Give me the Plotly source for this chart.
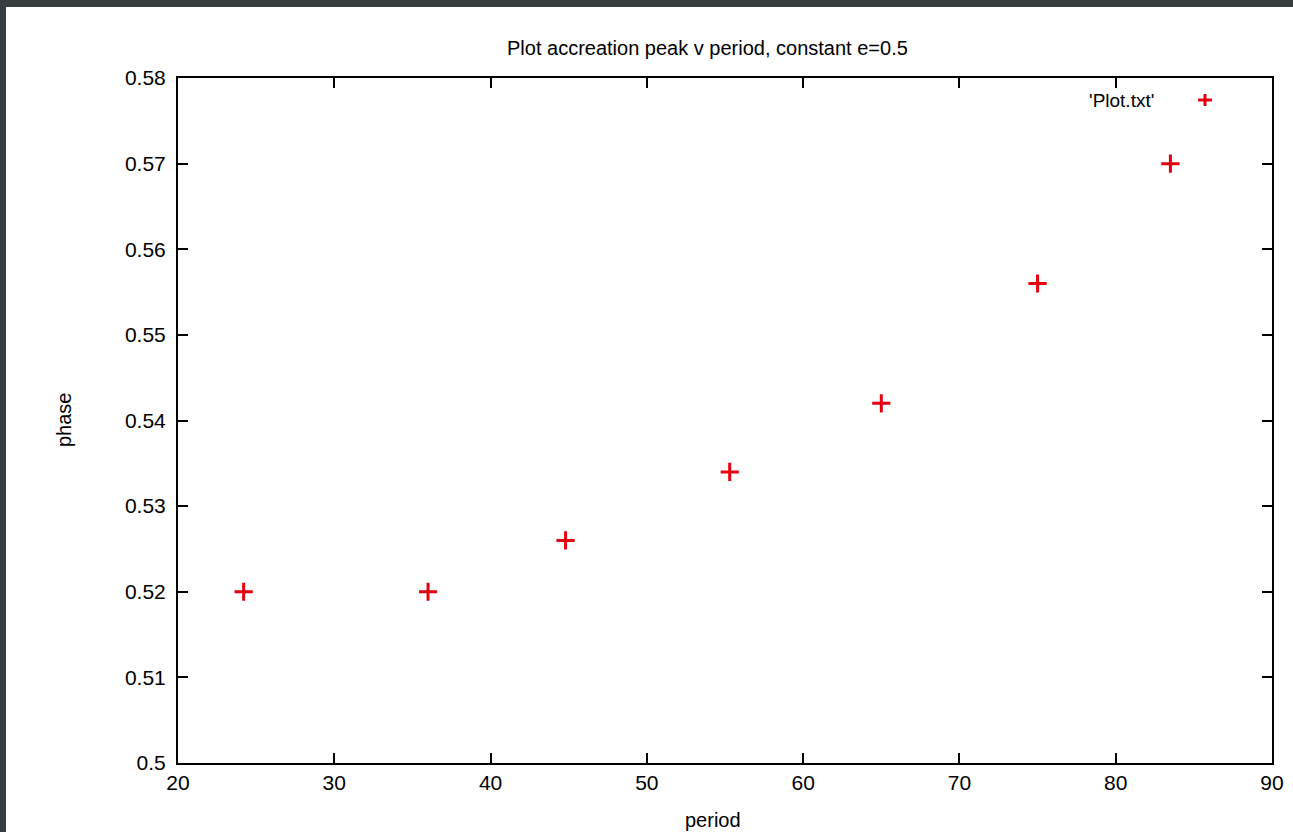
import plotly.graph_objects as go

# Accretion peak phase versus orbital period (constant e = 0.5)
period = [24.2, 36.0, 44.8, 55.3, 65.0, 75.0, 83.5]
phase = [0.520, 0.520, 0.526, 0.534, 0.542, 0.556, 0.570]

x_ticks = [20, 30, 40, 50, 60, 70, 80, 90]
x_tick_text = ["20", "30", "40", "50", "60", "70", "80", "90"]
y_ticks = [0.50, 0.51, 0.52, 0.53, 0.54, 0.55, 0.56, 0.57, 0.58]
y_tick_text = ["0.5", "0.51", "0.52", "0.53", "0.54", "0.55", "0.56", "0.57", "0.58"]

title_text = "Plot accreation peak v period, constant e=0.5"
series_name = "'Plot.txt'"
x_label = "period"
y_label = "phase"

FONT = "Liberation Sans, Arial, sans-serif"
RED = "#e4000f"
W, H = 1293, 832
L, R, T, B = 178, 21, 78, 69
PW, PH = W - L - R, H - T - B


def px_x(p):
    return (p - L) / PW


def px_y(p):
    return 1 - (p - T) / PH


fig = go.Figure()
fig.add_trace(go.Scatter(
    x=period, y=phase, mode="markers", name=series_name, showlegend=False,
    marker=dict(symbol="cross-thin", size=13, line=dict(color=RED, width=3)),
))

axis_common = dict(
    showgrid=False, zeroline=False, showline=True, linecolor="black", linewidth=2,
    mirror="ticks", ticks="inside", ticklen=10, tickwidth=1.5, tickcolor="black",
    tickfont=dict(family=FONT, size=21, color="black"),
)
fig.update_xaxes(range=[20, 90], tickvals=x_ticks, ticktext=x_tick_text, **axis_common)
fig.update_yaxes(range=[0.5, 0.58], tickvals=y_ticks, ticktext=y_tick_text,
                 ticklabelstandoff=6, **axis_common)


def label(text, x, y, size=20, **kw):
    base = dict(text=text, x=px_x(x), y=px_y(y), xref="paper", yref="paper",
                xanchor="center", yanchor="middle", showarrow=False,
                font=dict(family=FONT, size=size, color="black"))
    base.update(kw)
    return base


annotations = [
    label(title_text, 707, 48),
    label(x_label, 713, 820),
    label(y_label, 64, 420, textangle=-90),
    # key label, right-aligned next to the sample symbol
    label(series_name, 1156, 100, size=19, xanchor="right"),
]

kx, ky = px_x(1205), px_y(100)
shapes = [
    # dark window frame along the top and left edges
    dict(type="rect", xref="paper", yref="paper", x0=px_x(-5), x1=px_x(W + 5),
         y0=px_y(7), y1=px_y(-5), fillcolor="#373e43", line_width=0, layer="above"),
    dict(type="rect", xref="paper", yref="paper", x0=px_x(-5), x1=px_x(6),
         y0=px_y(H + 5), y1=px_y(-5), fillcolor="#373e43", line_width=0, layer="above"),
    # key sample symbol
    dict(type="line", xref="paper", yref="paper", xsizemode="pixel", ysizemode="pixel",
         xanchor=kx, yanchor=ky, x0=-7, x1=7, y0=0, y1=0, line=dict(color=RED, width=3)),
    dict(type="line", xref="paper", yref="paper", xsizemode="pixel", ysizemode="pixel",
         xanchor=kx, yanchor=ky, x0=0, x1=0, y0=-6, y1=6, line=dict(color=RED, width=3)),
]

fig.update_layout(
    width=W, height=H, margin=dict(l=L, r=R, t=T, b=B, autoexpand=False),
    paper_bgcolor="white", plot_bgcolor="white",
    annotations=annotations, shapes=shapes, showlegend=False,
)

fig.write_html("out.html", config={"displayModeBar": False})
